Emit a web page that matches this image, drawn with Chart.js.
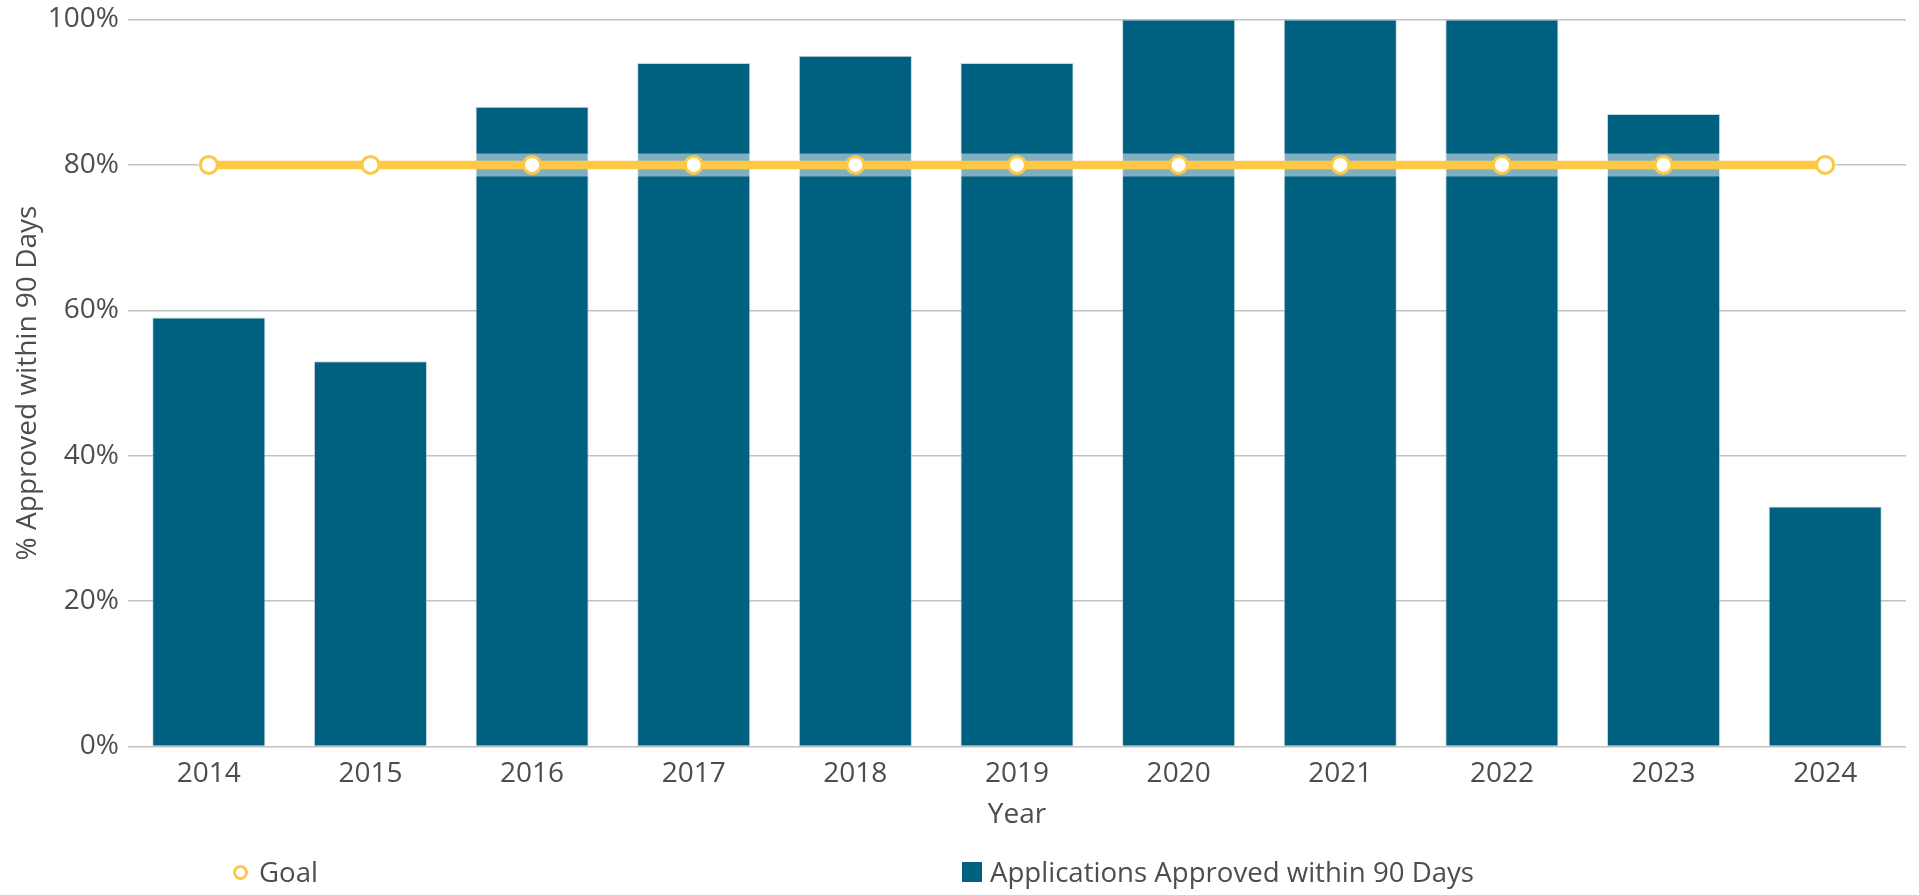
<!DOCTYPE html>
<html>
<head>
<meta charset="utf-8">
<script src="https://cdn.jsdelivr.net/npm/chart.js@4/dist/chart.umd.min.js"></script>
<style>
  html, body { margin: 0; padding: 0; background: #ffffff; }
  #wrap { position: relative; width: 1919px; height: 895px; }
  canvas { position: absolute; left: 0; top: 0; }
  .leg { position: absolute; font-family: "Open Sans", sans-serif; font-size: 27.6px; color: #4d4d4d; white-space: nowrap; line-height: 1; }
  .leg .mk { position: absolute; }
</style>
</head>
<body>
<div id="wrap">
  <canvas id="c" width="1919" height="895"></canvas>
  <div id="legend"></div>
</div>
<script>
const years = ['2014','2015','2016','2017','2018','2019','2020','2021','2022','2023','2024'];
const approvedPct = [59, 53, 88, 94, 95, 94, 100, 100, 100, 87, 33];
const goalPct = [80, 80, 80, 80, 80, 80, 80, 80, 80, 80, 80];
const yTicks = [0, 20, 40, 60, 80, 100];

const textColor = '#4d4d4d';
const barColor = '#00607f';
const goalColor = '#ffc844';
const font = 'Open Sans';

const chart = new Chart(document.getElementById('c'), {
  data: {
    labels: years,
    datasets: [
      {
        type: 'line', label: 'Goal', data: goalPct, order: 0,
        borderColor: goalColor, borderWidth: 8.5, backgroundColor: '#ffffff',
        pointRadius: 8.5, pointBorderWidth: 3, pointBorderColor: goalColor, pointBackgroundColor: '#ffffff',
        pointHoverRadius: 8.5, fill: false, tension: 0
      },
      {
        type: 'line', label: '_halo', data: goalPct, order: 1,
        borderColor: 'rgba(255,255,255,0.5)', borderWidth: 23, borderCapStyle: 'round',
        pointRadius: 0, pointHoverRadius: 0, fill: false, tension: 0
      },
      {
        type: 'bar', label: 'Applications Approved within 90 Days', data: approvedPct, order: 2,
        backgroundColor: barColor, borderColor: 'rgba(160,190,200,0.6)', borderWidth: 1,
        barPercentage: 0.7, categoryPercentage: 1.0
      }
    ]
  },
  options: {
    responsive: false,
    animation: false,
    layout: { padding: { left: 0, right: 13, top: 19.5, bottom: 0 } },
    plugins: {
      legend: { display: false },
      tooltip: { enabled: false }
    },
    scales: {
      x: {
        grid: { display: false, drawTicks: false },
        border: { display: false },
        ticks: { color: textColor, font: { family: font, size: 28 }, padding: 11, maxRotation: 0 },
        title: { display: true, text: 'Year', color: textColor, font: { family: font, size: 28 }, padding: { top: 0, bottom: 63 } },
        afterFit: (s) => { s.height = 148.5; s.paddingLeft = 0; s.paddingRight = 0; }
      },
      y: {
        min: 0, max: 100,
        afterBuildTicks: (s) => { s.ticks = yTicks.map(v => ({ value: v })); },
        grid: { color: '#c2c2c2', lineWidth: 1.6, drawTicks: false },
        border: { display: false },
        ticks: { color: textColor, font: { family: font, size: 28 }, padding: 9, callback: (v) => v + '%' },
        title: { display: true, text: '% Approved within 90 Days', color: textColor, font: { family: font, size: 28 }, padding: { top: 11, bottom: 0 } },
        afterFit: (s) => { s.width = 128; s.paddingTop = 0; s.paddingBottom = 0; }
      }
    }
  }
});

// HTML legend built from the chart's datasets
const legend = document.getElementById('legend');
const legendPos = { 'Goal': { left: 232, top: 860 }, 'Applications Approved within 90 Days': { left: 962, top: 860 } };
chart.data.datasets.forEach(ds => {
  if (ds.label.startsWith('_')) return;
  const p = legendPos[ds.label];
  const item = document.createElement('div');
  item.className = 'leg';
  item.style.left = p.left + 'px';
  item.style.top = p.top + 'px';
  const mk = document.createElement('span');
  mk.className = 'mk';
  let textLeft;
  if (ds.type === 'line') {
    mk.style.cssText = 'left:1px;top:5px;width:9px;height:9px;border:3px solid ' + goalColor + ';border-radius:50%;background:#fff;';
    textLeft = 27;
  } else {
    mk.style.cssText = 'left:0;top:2px;width:20px;height:20px;background:' + barColor + ';';
    textLeft = 28;
  }
  const tx = document.createElement('span');
  tx.textContent = ds.label;
  tx.style.cssText = 'position:absolute;left:' + textLeft + 'px;top:-2px;';
  item.appendChild(mk);
  item.appendChild(tx);
  legend.appendChild(item);
});
</script>
</body>
</html>
